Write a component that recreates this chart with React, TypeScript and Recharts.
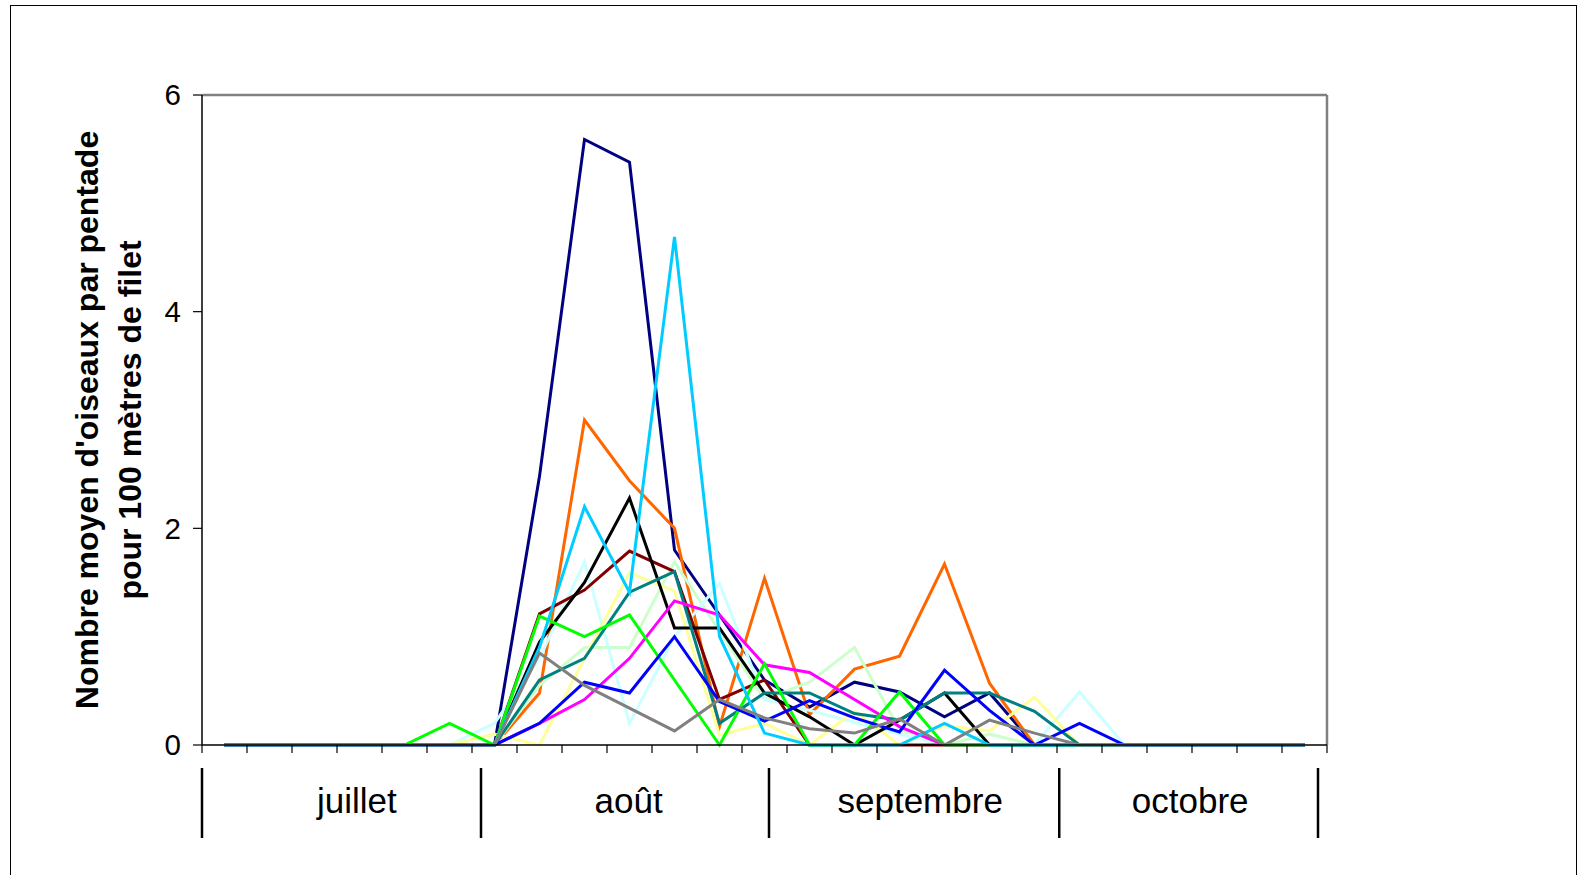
import { LineChart, Line, XAxis, YAxis, ReferenceLine } from "recharts"

// pentades, juillet -> octobre
const pentades = [
  "1", "2", "3", "4", "5", "6", "7", "8", "9", "10", "11", "12", "13",
  "14", "15", "16", "17", "18", "19", "20", "21", "22", "23", "24", "25",
]

const navy = [0, 0, 0, 0, 0, 0, 0, 2.48, 5.59, 5.38, 1.8, 1.2, 0.6, 0.35, 0.58, 0.49, 0.26, 0.48, 0, 0, 0, 0, 0, 0, 0]
const orange = [0, 0, 0, 0, 0, 0, 0, 0.48, 3.0, 2.44, 2.0, 0.17, 1.54, 0.28, 0.7, 0.82, 1.67, 0.57, 0, 0, 0, 0, 0, 0, 0]
const skyBlue = [0, 0, 0, 0, 0, 0, 0, 0.9, 2.2, 1.41, 4.69, 1.0, 0.11, 0, 0, 0, 0.2, 0, 0, 0, 0, 0, 0, 0, 0]
const black = [0, 0, 0, 0, 0, 0, 0, 0.95, 1.5, 2.28, 1.08, 1.08, 0.48, 0.26, 0, 0.23, 0.48, 0, 0, 0, 0, 0, 0, 0, 0]
const maroon = [0, 0, 0, 0, 0, 0, 0, 1.21, 1.43, 1.79, 1.6, 0.42, 0.6, 0, 0, 0, 0, 0, 0, 0, 0, 0, 0, 0, 0]
const teal = [0, 0, 0, 0, 0, 0, 0, 0.6, 0.8, 1.41, 1.6, 0.2, 0.48, 0.48, 0.29, 0.23, 0.48, 0.48, 0.31, 0, 0, 0, 0, 0, 0]
const green = [0, 0, 0, 0, 0, 0.2, 0, 1.19, 1.0, 1.2, 0.6, 0, 0.75, 0, 0, 0.49, 0, 0, 0, 0, 0, 0, 0, 0, 0]
const paleYellow = [0, 0, 0, 0, 0, 0, 0.1, 0, 0.8, 1.59, 1.42, 0.09, 0.2, 0, 0.31, 0, 0.18, 0.13, 0.44, 0, 0, 0, 0, 0, 0]
const paleCyan = [0, 0, 0, 0, 0, 0, 0.2, 0.8, 1.69, 0.2, 1.0, 1.49, 0.42, 0.32, 0.21, 0.1, 0, 0, 0, 0.49, 0, 0, 0, 0, 0]
const paleGreen = [0, 0, 0, 0, 0, 0, 0, 0.55, 0.9, 0.9, 1.69, 1.05, 0.42, 0.58, 0.9, 0.14, 0, 0.1, 0, 0, 0, 0, 0, 0, 0]
const magenta = [0, 0, 0, 0, 0, 0, 0, 0.2, 0.42, 0.8, 1.33, 1.2, 0.74, 0.67, 0.42, 0.17, 0, 0, 0, 0, 0, 0, 0, 0, 0]
const blue = [0, 0, 0, 0, 0, 0, 0, 0.2, 0.58, 0.48, 1.0, 0.4, 0.22, 0.41, 0.25, 0.12, 0.69, 0.32, 0, 0.2, 0, 0, 0, 0, 0]
const gray = [0, 0, 0, 0, 0, 0, 0, 0.85, 0.55, 0.34, 0.13, 0.42, 0.25, 0.15, 0.11, 0.24, 0, 0.23, 0.11, 0, 0, 0, 0, 0, 0]

const yTicks = [0, 2, 4, 6]

// months, positions in pentade units
const months = ["juillet", "août", "septembre", "octobre"]
const monthBounds = [0, 6.2, 12.6, 19.05, 24.8]
const monthCenters = [3.44, 9.48, 15.96, 21.96]

const SERIES = [
  { key: "s1", values: navy, color: "#000080" },
  { key: "s2", values: orange, color: "#FF6600" },
  { key: "s3", values: paleGreen, color: "#CCFFCC" },
  { key: "s4", values: paleCyan, color: "#CCFFFF" },
  { key: "s5", values: paleYellow, color: "#FFFF99" },
  { key: "s6", values: maroon, color: "#800000" },
  { key: "s7", values: black, color: "#000000" },
  { key: "s8", values: teal, color: "#008080" },
  { key: "s9", values: magenta, color: "#FF00FF" },
  { key: "s10", values: green, color: "#00FF00" },
  { key: "s11", values: blue, color: "#0000FF" },
  { key: "s12", values: skyBlue, color: "#00CCFF" },
  { key: "s13", values: gray, color: "#808080" },
]

// pos = middle of the pentade on a 0..N scale (used by the numeric helper axes)
const data = pentades.map((p, i) => {
  const row: Record<string, string | number> = { pentade: p, pos: i + 0.5 }
  SERIES.forEach((s) => {
    row[s.key] = s.values[i]
  })
  return row
})

const FONT = "'Liberation Sans', Arial, sans-serif"
const N = pentades.length
const gridTicks = [...pentades.map((_, i) => i), N]

function MonthTick(props: any) {
  const { x, y, payload } = props
  const idx = monthCenters.indexOf(payload.value)
  if (idx >= 0) {
    return (
      <text x={x} y={y + 48} textAnchor="middle" fontSize={35} fontFamily={FONT} fill="#000">
        {months[idx]}
      </text>
    )
  }
  return <line x1={x} x2={x} y1={y + 3} y2={y + 73} stroke="#000" strokeWidth={2.5} />
}

function YLabel(props: any) {
  const { viewBox } = props
  const cy = viewBox.y + viewBox.height / 2
  const x1 = viewBox.x - 44
  const x2 = viewBox.x - 1
  return (
    <g fontFamily={FONT} fontWeight="bold" fontSize={32} fill="#000">
      <text x={x1} y={cy} textAnchor="middle" transform={`rotate(-90, ${x1}, ${cy})`}>
        Nombre moyen d'oiseaux par pentade
      </text>
      <text x={x2} y={cy} textAnchor="middle" transform={`rotate(-90, ${x2}, ${cy})`}>
        pour 100 mètres de filet
      </text>
    </g>
  )
}

export default function App() {
  return (
    <div style={{ position: "absolute", left: 0, top: 0, width: 1577, height: 875, overflow: "hidden", background: "#fff" }}>
      <div
        style={{
          position: "absolute",
          left: 10,
          top: 5,
          width: 1567,
          height: 900,
          border: "1.5px solid #000",
          boxSizing: "border-box",
        }}
      />
      <LineChart
        width={1577}
        height={875}
        data={data}
        margin={{ top: 95, right: 250, left: 142, bottom: 0 }}
        style={{ position: "absolute", left: 0, top: 0 }}
      >
        <XAxis xAxisId="cat" dataKey="pentade" scale="band" hide height={0} />
        <XAxis
          xAxisId="grid"
          dataKey="pos"
          type="number"
          domain={[0, N]}
          allowDataOverflow
          ticks={gridTicks}
          interval={0}
          tickFormatter={() => ""}
          tickSize={8}
          height={20}
          axisLine={{ stroke: "#000", strokeWidth: 1.5 }}
          tickLine={{ stroke: "#000", strokeWidth: 1.2 }}
        />
        <XAxis
          xAxisId="month"
          dataKey="pos"
          type="number"
          domain={[0, N]}
          allowDataOverflow
          ticks={[...monthBounds, ...monthCenters]}
          interval={0}
          tick={(p: any) => <MonthTick {...p} />}
          tickSize={0}
          tickMargin={0}
          tickLine={false}
          axisLine={false}
          height={110}
        />
        <YAxis
          domain={[0, 6]}
          ticks={yTicks}
          interval={0}
          width={60}
          tickSize={9}
          tickMargin={12}
          axisLine={{ stroke: "#000", strokeWidth: 1.5 }}
          tickLine={{ stroke: "#000", strokeWidth: 1.2 }}
          tick={{ fontSize: 29.5, fill: "#000", fontFamily: FONT }}
          label={<YLabel />}
        />
        <ReferenceLine y={6} stroke="#808080" strokeWidth={2.5} ifOverflow="visible" />
        <ReferenceLine xAxisId="grid" x={N} stroke="#808080" strokeWidth={2.5} ifOverflow="visible" />
        {SERIES.map((s) => (
          <Line
            key={s.key}
            xAxisId="cat"
            type="linear"
            dataKey={s.key}
            stroke={s.color}
            strokeWidth={3}
            dot={false}
            activeDot={false}
            isAnimationActive={false}
          />
        ))}
      </LineChart>
    </div>
  )
}
